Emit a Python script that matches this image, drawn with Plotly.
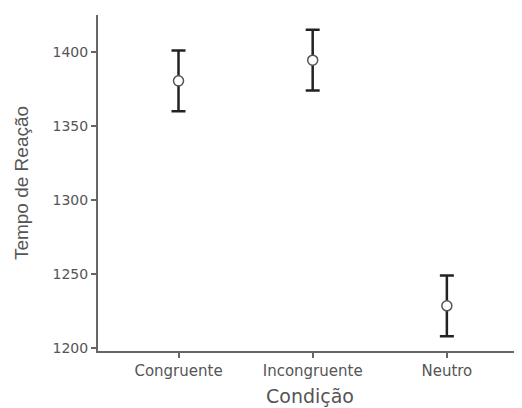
import plotly.graph_objects as go

categories = ["Congruente", "Incongruente", "Neutro"]
means = [1380.5, 1394.5, 1228.5]
errors = [20.5, 20.5, 20.5]
y_ticks = [1200, 1250, 1300, 1350, 1400]

fig = go.Figure()
fig.add_trace(go.Scatter(
    x=[0, 1, 2], y=means, mode="markers",
    marker=dict(size=10, color="white", line=dict(color="#555555", width=1.5)),
    error_y=dict(type="data", array=errors, visible=True, color="#222222", thickness=2.5, width=7),
    showlegend=False,
))

fig.update_layout(
    width=514, height=400,
    margin=dict(l=90, r=0, t=7, b=57),
    paper_bgcolor="white", plot_bgcolor="white",
    font=dict(family="DejaVu Sans, sans-serif", color="#555555"),
    xaxis=dict(
        range=[-0.6, 2.56], tickmode="array", tickvals=[0, 1, 2], ticktext=categories,
        showgrid=False, zeroline=False, showline=True, linecolor="#666666", linewidth=2,
        ticks="outside", ticklen=5, tickwidth=2, tickcolor="#666666",
        tickfont=dict(family="DejaVu Sans, sans-serif", size=15, color="#555555"),
        title=dict(text="Condição", font=dict(family="DejaVu Sans, sans-serif", size=19, color="#555555"), standoff=11),
    ),
    yaxis=dict(
        range=[1198, 1425], tickvals=y_ticks,
        showgrid=False, zeroline=False, showline=True, linecolor="#666666", linewidth=2,
        ticks="outside", ticklen=5, tickwidth=2, tickcolor="#666666",
        tickfont=dict(family="DejaVu Sans, sans-serif", size=14, color="#555555"),
        title=dict(text="Tempo de Reação", font=dict(family="Liberation Sans, Arial, sans-serif", size=19, color="#555555"), standoff=19),
    ),
)

fig.write_html("out.html")
